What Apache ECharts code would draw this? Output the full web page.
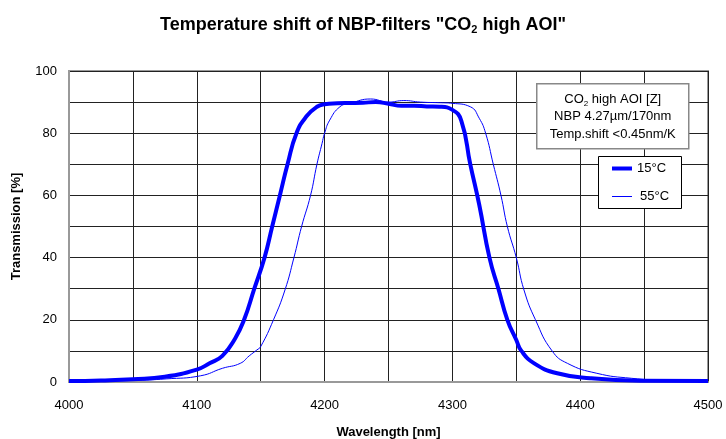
<!DOCTYPE html>
<html>
<head>
<meta charset="utf-8">
<script src="https://cdn.jsdelivr.net/npm/echarts@6/dist/echarts.min.js"></script>
<style>
  html, body { margin: 0; padding: 0; background: #fff; }
  #chart { width: 726px; height: 439px; }
</style>
</head>
<body>
<div id="chart"></div>
<script>
// wavelength [nm] / transmission [%]
const wl15 = [4000, 4025, 4050, 4075, 4100, 4110, 4120, 4130, 4137, 4145, 4153, 4159, 4165, 4171, 4178, 4186, 4194, 4200, 4210, 4220, 4230, 4240, 4250, 4260, 4270, 4280, 4290, 4300, 4307, 4314, 4321, 4329, 4336, 4343, 4350, 4354, 4364, 4382, 4408, 4447, 4500];
const t15 = [0.3, 0.5, 0.9, 1.7, 4, 6, 8.4, 14, 20, 30, 40, 50, 60, 70, 80, 85.5, 88.5, 89.3, 89.6, 89.7, 89.8, 90, 89.5, 88.8, 88.8, 88.6, 88.5, 87.5, 84, 70, 57, 40, 30, 20, 13.5, 10, 6, 2.8, 1.2, 0.4, 0.3];
const wl55 = [4000, 4050, 4076, 4103, 4120, 4134, 4141, 4147, 4150, 4160, 4169, 4176, 4182, 4189, 4194, 4198, 4200, 4204, 4212, 4220, 4236, 4250, 4262, 4275, 4290, 4300, 4314, 4321, 4326, 4332, 4338, 4343, 4350, 4356, 4365, 4378, 4390, 4413, 4440, 4470, 4500];
const t55 = [0.2, 0.5, 1, 2, 4.4, 6, 8.4, 10.3, 11.4, 20, 29.6, 40, 50, 60, 70, 76.7, 80, 84.2, 88.5, 89.6, 91, 90, 90.5, 90, 89.8, 89.6, 88.5, 84.8, 80, 70, 60, 50, 40, 29.6, 20, 10, 6, 2.8, 1.2, 0.5, 0.3];
const seriesNames = ['15°C', '55°C'];

const font = 'Liberation Sans, Arial, sans-serif';
const blue = '#0000ff';
const pairs = (xs, ys) => xs.map((x, i) => [x, ys[i]]);

const legendBase = {
    orient: 'vertical',
    left: 612,
    padding: 0,
    itemWidth: 20,
    icon: 'rect',
    textStyle: { fontFamily: font, fontSize: 13, color: '#000' },
    z: 20,
};

const chart = echarts.init(document.getElementById('chart'));
const option = {
    animation: false,
    title: {
        text: 'Temperature shift of NBP-filters "CO{sub|2} high AOI"',
        left: 'center',
        top: 10,
        textStyle: {
            fontFamily: font,
            fontSize: 18,
            fontWeight: 'bold',
            color: '#000',
            rich: {
                sub: { fontFamily: font, fontSize: 11, fontWeight: 'bold', verticalAlign: 'bottom', padding: [9, 0, 0, 0] },
            },
        },
    },
    grid: {
        left: 69,
        right: 18,
        top: 71,
        bottom: 57,
        outerBoundsMode: 'none',
        show: true,
        borderColor: '#999',
        borderWidth: 2,
    },
    legend: [
        Object.assign({}, legendBase, { data: [seriesNames[0]], top: 162, itemHeight: 4, itemGap: 5 }),
        Object.assign({}, legendBase, { data: [seriesNames[1]], top: 190, itemHeight: 1, textStyle: Object.assign({}, legendBase.textStyle, { padding: [0, 0, 0, 3] }) }),
    ],
    xAxis: {
        type: 'value',
        min: 4000,
        max: 4500,
        interval: 50,
        name: 'Wavelength [nm]',
        nameLocation: 'middle',
        nameGap: 44,
        nameTextStyle: { fontFamily: font, fontSize: 13, fontWeight: 'bold', color: '#000' },
        axisLine: { lineStyle: { color: '#999', width: 2 } },
        axisTick: { show: false },
        axisLabel: {
            fontFamily: font,
            fontSize: 13,
            color: '#000',
            margin: 17,
            formatter: v => (v % 100 === 0 ? String(v) : ''),
        },
        splitLine: { lineStyle: { color: '#222', width: 1 } },
    },
    yAxis: {
        type: 'value',
        min: 0,
        max: 100,
        interval: 10,
        name: 'Transmission [%]',
        nameLocation: 'middle',
        nameGap: 46,
        nameTextStyle: { fontFamily: font, fontSize: 13, fontWeight: 'bold', color: '#000' },
        axisLine: { show: true, lineStyle: { color: '#999', width: 2 } },
        axisTick: { show: false },
        axisLabel: {
            fontFamily: font,
            fontSize: 13,
            color: '#000',
            margin: 12,
            formatter: v => (v % 20 === 0 ? String(v) : ''),
        },
        splitLine: { lineStyle: { color: '#222', width: 1 } },
    },
    graphic: [
        {
            type: 'group',
            left: 536,
            top: 83,
            z: 10,
            children: [
                {
                    type: 'rect',
                    z: 10,
                    shape: { x: 0.5, y: 0.5, width: 152, height: 65 },
                    style: { fill: '#fff', stroke: '#888', lineWidth: 1.5 },
                },
                {
                    type: 'text',
                    z: 11,
                    x: 76.5,
                    y: 7,
                    style: {
                        text: 'CO{sub|2} high AOI [Z]\nNBP 4.27µm/170nm\nTemp.shift <0.45nm/K',
                        align: 'center',
                        fontFamily: font,
                        fontSize: 13,
                        lineHeight: 17.5,
                        fill: '#000',
                        rich: {
                            sub: { fontFamily: font, fontSize: 8, verticalAlign: 'bottom', lineHeight: 17.5, padding: [7, 0, 0, 0] },
                        },
                    },
                },
            ],
        },
        {
            type: 'rect',
            z: 10,
            left: 598,
            top: 156,
            shape: { x: 0.5, y: 0.5, width: 83, height: 52 },
            style: { fill: '#fff', stroke: '#000', lineWidth: 1 },
        },
    ],
    series: [
        {
            name: seriesNames[0],
            type: 'line',
            data: pairs(wl15, t15),
            smooth: 0.5,
            showSymbol: false,
            symbol: 'none',
            lineStyle: { color: blue, width: 4 },
            itemStyle: { color: blue },
            z: 3,
        },
        {
            name: seriesNames[1],
            type: 'line',
            data: pairs(wl55, t55),
            smooth: 0.5,
            showSymbol: false,
            symbol: 'none',
            lineStyle: { color: blue, width: 1 },
            itemStyle: { color: blue },
            z: 2,
        },
    ],
};
chart.setOption(option);
window.addEventListener('resize', () => {
    chart.resize();
});
</script>
</body>
</html>
